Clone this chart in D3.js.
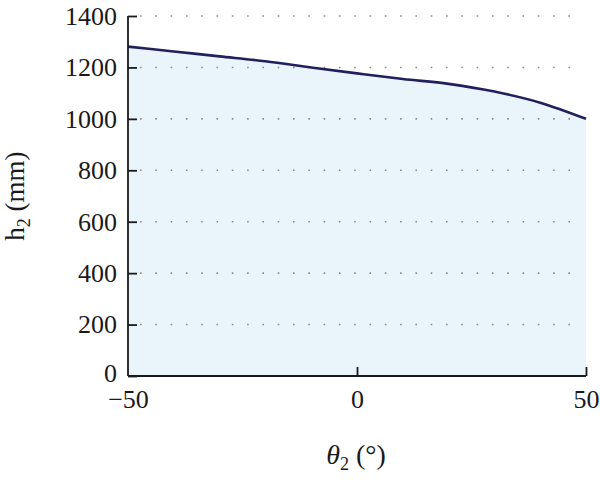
<!DOCTYPE html>
<html><head><meta charset="utf-8">
<script src="https://cdn.jsdelivr.net/npm/d3@7"></script>
<style>body{margin:0;background:#fff}svg{display:block}</style>
</head><body>
<script>
const theta = [-50,-40,-30,-20,-10,0,10,20,30,40,50];
const h2 = [1281,1262,1243,1224,1200,1177,1155,1136,1106,1063,1000];
const yTicks = [0,200,400,600,800,1000,1200,1400];
const xTicks = [-50,0,50];

const W=600,H=480;
const svg=d3.select("body").append("svg").attr("width",W).attr("height",H);
const x=d3.scaleLinear().domain([-50,50]).range([128,586]);
const y=d3.scaleLinear().domain([0,1400]).range([376,16]);
const data=theta.map((t,i)=>({t,v:h2[i]}));
const font="'Liberation Serif', 'Times New Roman', serif";
const fs=26;

svg.append("path").datum(data)
  .attr("d",d3.area().x(d=>x(d.t)).y0(y(0)).y1(d=>y(d.v)).curve(d3.curveMonotoneX))
  .attr("fill","#eaf5fb");

// grid
svg.append("g").selectAll("line").data(yTicks.filter(d=>d>0)).join("line")
  .attr("x1",x(-50)+12).attr("x2",x(50)-10)
  .attr("y1",d=>y(d)).attr("y2",d=>y(d))
  .attr("stroke","#8a8a8a").attr("stroke-width",1.6)
  .attr("stroke-dasharray","1.6,13.7");

svg.append("path").datum(data)
  .attr("d",d3.line().x(d=>x(d.t)).y(d=>y(d.v)).curve(d3.curveMonotoneX))
  .attr("fill","none").attr("stroke","#211f5c").attr("stroke-width",2.6);

const ya=svg.append("g").attr("transform",`translate(${x(-50)},0)`)
  .call(d3.axisLeft(y).tickValues(yTicks).tickSize(-9).tickPadding(11).tickFormat(d3.format("d")));
ya.select(".domain").attr("d",`M0,${y(1400)}V${y(0)}`);
const xa=svg.append("g").attr("transform",`translate(0,${y(0)})`)
  .call(d3.axisBottom(x).tickValues(xTicks).tickSize(-9).tickPadding(14).tickFormat(d=>d<0?"\u2212"+Math.abs(d):d));
xa.select(".domain").attr("d",`M${x(-50)},0H${x(50)}`);
[ya,xa].forEach(a=>{
  a.selectAll(".domain").attr("stroke","#1a1a1a").attr("stroke-width",1.8);
  a.selectAll(".tick line").attr("stroke","#1a1a1a").attr("stroke-width",1.8);
  a.selectAll("text").attr("font-family",font).attr("font-size",fs).attr("fill","#1a1a1a");
});
xa.selectAll(".tick").filter(d=>d===-50).select("line").remove();
ya.selectAll(".tick").filter(d=>d===0).select("text").attr("dy","0.2em");

const xl=svg.append("text").attr("x",356).attr("y",464).attr("text-anchor","middle")
  .attr("font-family",font).attr("font-size",28).attr("fill","#1a1a1a");
xl.append("tspan").attr("font-style","italic").text("θ");
xl.append("tspan").attr("font-size",18).attr("dy",6).text("2");
xl.append("tspan").attr("dy",-6).text(" (°)");

const yl=svg.append("text").attr("transform","translate(24,196) rotate(-90)").attr("text-anchor","middle")
  .attr("font-family",font).attr("font-size",27).attr("fill","#1a1a1a");
yl.append("tspan").text("h");
yl.append("tspan").attr("font-size",18).attr("dy",6).text("2");
yl.append("tspan").attr("dy",-6).text(" (mm)");
</script>
</body></html>
